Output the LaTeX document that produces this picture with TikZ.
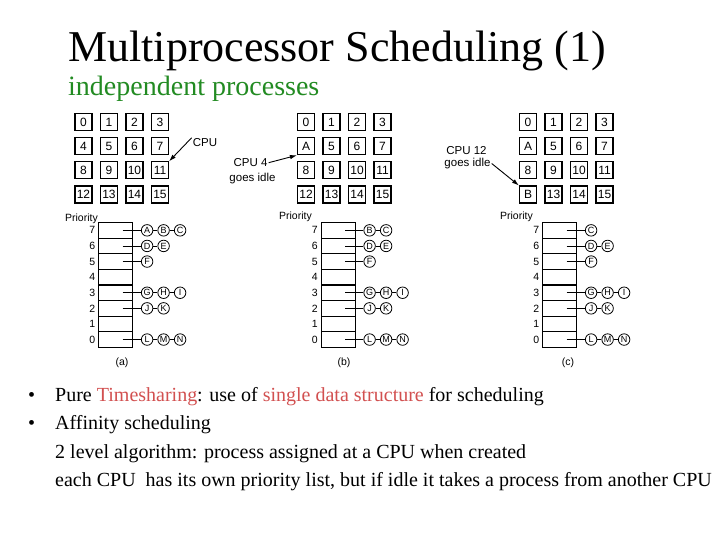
\documentclass[tikz,border=0pt]{standalone}
\usepackage{fontspec}
\setmainfont{Liberation Serif}
\setsansfont{Liberation Sans}
\usepackage{xcolor}
\usepackage{tikz}
\usetikzlibrary{arrows.meta, positioning}
\definecolor{TitleGreen}{HTML}{228B22}
\definecolor{SoftRed}{HTML}{D25050}

\tikzset{
  cpubox/.style={draw, line width=1.2pt, minimum size=17pt, inner sep=0pt, font=\sffamily\fontsize{12}{12}\selectfont},
  prioslot/.style={draw, line width=1.1pt, minimum width=34pt, minimum height=15.6pt, inner sep=0pt, anchor=north west},
  prionum/.style={font=\sffamily\fontsize{10.5}{10.5}\selectfont, inner sep=0pt},
  proc/.style={draw, circle, line width=0.8pt, minimum size=11.5pt, inner sep=0pt, font=\sffamily\fontsize{9}{9}\selectfont},
  link/.style={line width=0.8pt},
  note/.style={font=\sffamily\fontsize{11.5}{12}\selectfont, inner sep=1pt},
  pointer/.style={-{Latex[length=7pt,width=4.5pt]}, line width=0.9pt},
  slidetext/.style={anchor=base west, inner sep=0pt, font=\fontsize{20}{24}\selectfont},
}

% 4x4 grid of CPUs: name, left x, labels
\newcommand{\cpugrid}[3]{%
  \foreach \lab [count=\i from 0] in {#3} {
    \pgfmathtruncatemacro{\gridcol}{mod(\i,4)}
    \pgfmathtruncatemacro{\gridrow}{\i/4}
    \node[cpubox] (#1-\i) at ({#2+25.5*\gridcol}, {122+24.2*\gridrow}) {\lab};
  }%
}

% priority list: name, left x, queued processes per level
\newcommand{\prioqueue}[3]{%
  \foreach \p in {0,...,7} {
    \node[prioslot] (#1-q\p) at (#2, {222+15.6*(7-\p)}) {};
    \node[prionum, left=2.5pt of #1-q\p] (#1-n\p) {\p};
    \coordinate (#1-s\p) at ([xshift=7pt]#1-q\p.center);
  }
  \foreach \p/\procs in {#3} {
    \foreach \pr [count=\k] in \procs {
      \pgfmathsetmacro{\dx}{14+16.5*(\k-1)}
      \node[proc] (#1-\p-\k) at ([xshift=\dx pt]#1-q\p.east) {\pr};
      \ifnum\k=1
        \draw[link] (#1-s\p) -- (#1-\p-\k);
      \else
        \pgfmathtruncatemacro{\km}{\k-1}
        \draw[link] (#1-\p-\km) -- (#1-\p-\k);
      \fi
    }
  }%
}

\begin{document}
\begin{tikzpicture}[x=1pt, y=-1pt]
  \useasboundingbox (0,0) rectangle (720,540);
  \fill[white] (0,0) rectangle (720,540);

  % heading
  \node[anchor=base west, inner sep=0pt, font=\fontsize{44}{48}\selectfont] (title) at (68,62) {Multiprocessor Scheduling (1)};
  \node[anchor=base west, inner sep=0pt, font=\fontsize{28}{32}\selectfont, text=TitleGreen] (subtitle) at (68,96) {independent processes};

  % CPU grids
  \cpugrid{a}{83.5}{0,1,2,3,4,5,6,7,8,9,10,11,12,13,14,15}
  \cpugrid{b}{306}{0,1,2,3,A,5,6,7,8,9,10,11,12,13,14,15}
  \cpugrid{c}{528}{0,1,2,3,A,5,6,7,8,9,10,11,B,13,14,15}

  \node[note] (a-cpu) at (205,143) {CPU};
  \draw[pointer] (a-cpu.north west) -- (a-11.north east);

  \node[note] (b-cpu) at (250.5,162.7) {CPU 4};
  \node[note] (b-idle) at (252.5,179) {goes idle};
  \draw[pointer] (b-cpu.east) -- (b-4.south west);

  \node[note] (c-cpu) at (466.5,150.7) {CPU 12};
  \node[note] (c-idle) at (467.5,163.5) {goes idle};
  \draw[pointer] (c-idle.east) -- (c-12.north west);

  % priority lists
  \prioqueue{a}{98}{7/{A,B,C},6/{D,E},5/{F},3/{G,H,I},2/{J,K},0/{L,M,N}}
  \prioqueue{b}{320.5}{7/{B,C},6/{D,E},5/{F},3/{G,H,I},2/{J,K},0/{L,M,N}}
  \prioqueue{c}{542}{7/{C},6/{D,E},5/{F},3/{G,H,I},2/{J,K},0/{L,M,N}}

  \node[prionum, anchor=east] (a-prio) at (98,219) {Priority};
  \node[prionum, anchor=east] (b-prio) at (312,217) {Priority};
  \node[prionum, anchor=east] (c-prio) at (533,217) {Priority};

  \node[prionum] (a-cap) at (122,363) {(a)};
  \node[prionum] (b-cap) at (344,363) {(b)};
  \node[prionum] (c-cap) at (568,363) {(c)};

  % bullet text
  \node[slidetext] (dot1) at (28,401) {\textbullet};
  \node[slidetext] (dot2) at (28,429.5) {\textbullet};
  \node[slidetext] (line1) at (55,401) {Pure \textcolor{SoftRed}{Timesharing}: use of \textcolor{SoftRed}{single data structure} for scheduling};
  \node[slidetext] (line2) at (55,429.5) {Affinity scheduling};
  \node[slidetext] (line3) at (55,458) {2 level algorithm: process assigned at a CPU when created};
  \node[slidetext] (line4) at (55,486.5) {each CPU~ has its own priority list, but if idle it takes a process from another CPU};
\end{tikzpicture}
\end{document}
